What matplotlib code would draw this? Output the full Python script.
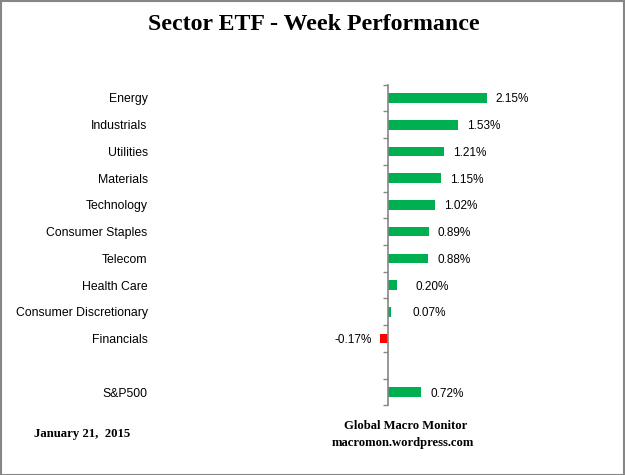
import matplotlib.pyplot as plt
from matplotlib.patches import Rectangle

# Data
sectors = ['Energy', 'Industrials', 'Utilities', 'Materials', 'Technology',
           'Consumer Staples', 'Telecom', 'Health Care',
           'Consumer Discretionary', 'Financials', '', 'S&P500']
perf = [2.15, 1.53, 1.21, 1.15, 1.02, 0.89, 0.88, 0.20, 0.07, -0.17, None, 0.72]

title = 'Sector ETF - Week Performance'
date_text = 'January 21,  2015'
source_lines = ['Global Macro Monitor', 'macromon.wordpress.com']

GREEN = '#00B050'
RED = '#FF0000'
GRAY = '#868686'
SANS = ['Liberation Sans', 'DejaVu Sans']
SERIF = ['Liberation Serif', 'DejaVu Serif']

W, H = 625, 475
fig = plt.figure(figsize=(W / 100, H / 100), dpi=100)

# axes box in pixels: left 350, right 580, top 84.6, bottom 405.4
left_px, right_px, top_px, bot_px = 350, 580, 84.6, 405.4
ax = fig.add_axes([left_px / W, 1 - bot_px / H,
                   (right_px - left_px) / W, (bot_px - top_px) / H])
px_per_unit = 46.0
zero_px = 388
ax.set_xlim((left_px - zero_px) / px_per_unit, (right_px - zero_px) / px_per_unit)
ax.set_ylim(len(sectors) - 0.5, -0.5)

ys = list(range(len(sectors)))
for y, v in zip(ys, perf):
    if v is None:
        continue
    ax.barh(y, v, height=0.36, color=GREEN if v >= 0 else RED, zorder=2)
    if v >= 0:
        # small bars get their label pushed away from the axis, as Excel does
        lx = max(v, v / 2 + 0.3)
        ax.annotate(f'{v:.2f}%', (lx, y), xytext=(6.5, 0), textcoords='offset points',
                    ha='left', va='center_baseline', fontsize=8.5, family=SANS)
    else:
        ax.annotate(f'{v:.2f}%', (v, y), xytext=(-6, 0), textcoords='offset points',
                    ha='right', va='center_baseline', fontsize=8.5, family=SANS)

# axis styling
for s in ['top', 'right', 'bottom']:
    ax.spines[s].set_visible(False)
ax.spines['left'].set_position(('data', 0))
ax.spines['left'].set_color(GRAY)
ax.spines['left'].set_linewidth(1.2)
ax.set_xticks([])
ax.set_yticks(ys)
ax.set_yticklabels(sectors, fontsize=8.8, family=SANS)
ax.tick_params(axis='y', which='major', length=0, pad=173)
ax.set_yticks([y - 0.5 for y in ys] + [len(sectors) - 0.5], minor=True)
ax.tick_params(axis='y', which='minor', length=3.5, width=1, color=GRAY, direction='out')

# texts
fig.text(314 / W, 1 - 24 / H, title, ha='center', va='center',
         fontsize=17.2, fontweight='bold', family=SERIF)
fig.text(34 / W, 1 - 434 / H, date_text, ha='left', va='center',
         fontsize=9.2, fontweight='bold', family=SERIF)
fig.text(406 / W, 1 - 426 / H, source_lines[0], ha='center', va='center',
         fontsize=9.1, fontweight='bold', family=SERIF)
fig.text(403 / W, 1 - 443 / H, source_lines[1], ha='center', va='center',
         fontsize=9.1, fontweight='bold', family=SERIF)

# figure border
fig.patches.append(Rectangle((0.001, 0.001), 0.997, 0.997, transform=fig.transFigure,
                             fill=False, edgecolor=GRAY, linewidth=1.5))

fig.savefig('out.png', dpi=100)
